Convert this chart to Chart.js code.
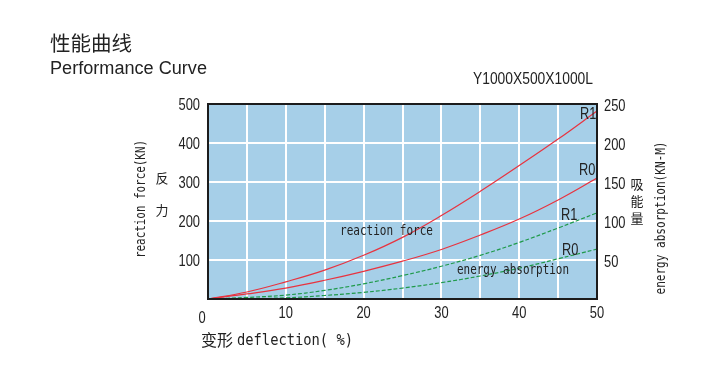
<!DOCTYPE html>
<html>
<head>
<meta charset="utf-8">
<script src="https://cdn.jsdelivr.net/npm/chart.js@4/dist/chart.umd.min.js"></script>
<style>
  body { margin: 0; background: #fff; }
  canvas { display: block; }
</style>
</head>
<body>
<canvas id="curveChart" width="724" height="368"></canvas>
<script>
// values
const deflection = [0, 5, 10, 15, 20, 25, 30, 35, 40, 45, 50];
const forceR1 = [0, 18, 44, 74, 112, 158, 214, 276, 342, 410, 482];
const forceR0 = [0, 13, 28, 48, 71, 97, 127, 164, 205, 254, 310];
const energyR1 = [0, 2, 5, 11, 19.5, 30, 42, 56, 72.5, 91, 110.5];
const energyR0 = [0, 0.5, 1.5, 4.5, 8.5, 14, 21, 29.5, 39.5, 51.5, 64];

const xTicks = [0, 10, 20, 30, 40, 50];
const forceTicks = [100, 200, 300, 400, 500];
const energyTicks = [50, 100, 150, 200, 250];

const CJK = '"Noto Sans CJK SC", sans-serif';
const SANS = '"Liberation Sans", Arial, sans-serif';
const MONO = '"DejaVu Sans Mono", monospace';

function points(ys) {
    return deflection.map((x, i) => ({ x: x, y: ys[i] }));
}

// draw text squeezed horizontally (scale) or fitted to a width
function txt(ctx, str, x, y, font, opts) {
    opts = opts || {};
    ctx.save();
    ctx.font = font;
    ctx.fillStyle = opts.color || '#222';
    ctx.textAlign = opts.align || 'left';
    ctx.textBaseline = opts.baseline || 'alphabetic';
    let sx = opts.scale || 1;
    if (opts.width) sx = opts.width / ctx.measureText(str).width;
    ctx.translate(x, y);
    if (opts.rotate) ctx.rotate(opts.rotate);
    ctx.scale(sx, 1);
    ctx.fillText(str, 0, 0);
    ctx.restore();
}

const decorPlugin = {
    id: 'decor',
    beforeDraw(chart) {
        const { ctx, chartArea: a } = chart;
        ctx.save();
        ctx.fillStyle = '#a6cfe8';
        ctx.fillRect(a.left, a.top, a.right - a.left, a.bottom - a.top);
        ctx.restore();
    },
    afterDatasetsDraw(chart) {
        const { ctx, chartArea: a } = chart;
        ctx.save();
        ctx.strokeStyle = '#1c1c1c';
        ctx.lineWidth = 2;
        ctx.strokeRect(a.left, a.top, a.right - a.left, a.bottom - a.top);
        ctx.restore();
    },
    afterDraw(chart) {
        const ctx = chart.ctx;
        const sx = chart.scales.x, sy = chart.scales.y, sy2 = chart.scales.y2;
        const tickFont = '17px ' + SANS;

        // tick labels
        xTicks.forEach(v => {
            let px = sx.getPixelForValue(v), py = 313;
            if (v === 0) { px -= 6; py += 5; }
            txt(ctx, String(v), px, py, tickFont, { align: 'center', baseline: 'middle', scale: 0.76 });
        });
        forceTicks.forEach(v => {
            txt(ctx, String(v), 200, sy.getPixelForValue(v) + 1.5, tickFont, { align: 'right', baseline: 'middle', scale: 0.76 });
        });
        energyTicks.forEach(v => {
            txt(ctx, String(v), 604, sy2.getPixelForValue(v) + 2, tickFont, { align: 'left', baseline: 'middle', scale: 0.76 });
        });

        // titles
        txt(ctx, '性能曲线', 50, 51, '20px ' + CJK, { width: 82 });
        txt(ctx, 'Performance Curve', 50, 74, '18px ' + SANS, { width: 157 });
        txt(ctx, 'Y1000X500X1000L', 473, 84, '16px ' + SANS, { width: 120 });

        // axis titles
        txt(ctx, '变形', 201, 346, '16px ' + CJK, {});
        txt(ctx, 'deflection( %)', 237, 345, '15px ' + MONO, { width: 116 });
        txt(ctx, 'reaction force(KN)', 141, 199, '14px ' + MONO, { width: 118, align: 'center', baseline: 'middle', rotate: -Math.PI / 2 });
        txt(ctx, '反', 162, 178, '13px ' + CJK, { align: 'center', baseline: 'middle' });
        txt(ctx, '力', 162, 210, '13px ' + CJK, { align: 'center', baseline: 'middle' });
        txt(ctx, '吸', 637, 184, '13px ' + CJK, { align: 'center', baseline: 'middle' });
        txt(ctx, '能', 637, 201, '13px ' + CJK, { align: 'center', baseline: 'middle' });
        txt(ctx, '量', 637, 218, '13px ' + CJK, { align: 'center', baseline: 'middle' });
        txt(ctx, 'energy absorption(KN-M)', 661, 218, '14px ' + MONO, { width: 153, align: 'center', baseline: 'middle', rotate: -Math.PI / 2 });

        // curve labels
        txt(ctx, 'R1', 580, 119, '16px ' + SANS, { scale: 0.8 });
        txt(ctx, 'R0', 579, 175, '16px ' + SANS, { scale: 0.8 });
        txt(ctx, 'R1', 561, 220, '16px ' + SANS, { scale: 0.8 });
        txt(ctx, 'R0', 562, 255, '16px ' + SANS, { scale: 0.8 });
        txt(ctx, 'reaction force', 340, 235, '14px ' + MONO, { width: 93 });
        txt(ctx, 'energy absorption', 457, 274, '14px ' + MONO, { width: 112 });
    }
};

const redLine = { borderColor: '#e8333f', borderWidth: 1.2, pointRadius: 0, fill: false, tension: 0.4 };
const greenLine = { borderColor: '#1f9a4a', borderWidth: 1.2, borderDash: [4, 2], pointRadius: 0, fill: false, tension: 0.4 };

const gridWhite = { color: '#ffffff', lineWidth: 2, drawTicks: false };

const ctx = document.getElementById('curveChart').getContext('2d');
const chart = new Chart(ctx, {
    type: 'line',
    data: {
        datasets: [
            Object.assign({ label: 'reaction force R1', data: points(forceR1), yAxisID: 'y' }, redLine),
            Object.assign({ label: 'reaction force R0', data: points(forceR0), yAxisID: 'y' }, redLine),
            Object.assign({ label: 'energy absorption R1', data: points(energyR1), yAxisID: 'y2' }, greenLine),
            Object.assign({ label: 'energy absorption R0', data: points(energyR0), yAxisID: 'y2' }, greenLine)
        ]
    },
    plugins: [decorPlugin],
    options: {
        responsive: false,
        animation: false,
        devicePixelRatio: 1,
        layout: { padding: { top: 104, left: 0, right: 0, bottom: 0 } },
        plugins: { legend: { display: false }, tooltip: { enabled: false } },
        scales: {
            x: {
                type: 'linear', min: 0, max: 50,
                ticks: { stepSize: 5, display: false },
                grid: gridWhite,
                border: { display: false },
                afterFit(scale) { scale.height = 69; }
            },
            y: {
                position: 'left', min: 0, max: 500,
                ticks: { stepSize: 100, display: false },
                grid: gridWhite,
                border: { display: false },
                afterFit(scale) { scale.width = 208; }
            },
            y2: {
                position: 'right', min: 0, max: 250,
                ticks: { stepSize: 50, display: false },
                grid: { display: false, drawTicks: false },
                border: { display: false },
                afterFit(scale) { scale.width = 127; }
            }
        }
    }
});
</script>
</body>
</html>
